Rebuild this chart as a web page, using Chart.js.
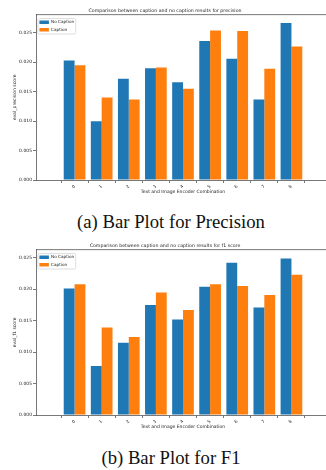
<!DOCTYPE html>
<html>
<head>
<meta charset="utf-8">
<script src="https://cdn.jsdelivr.net/npm/chart.js@4.4.0/dist/chart.umd.min.js"></script>
<style>
  html, body { margin: 0; padding: 0; background: #fff; }
  body { width: 326px; height: 470px; overflow: hidden; position: relative; }
  .plot { position: absolute; left: 0; width: 366px; height: 200px; }
  .caption { position: absolute; left: 0; width: 342px; text-align: center; font-family: "Liberation Serif", serif; font-size: 18.7px; line-height: 22px; color: #111; white-space: nowrap; }
</style>
</head>
<body>
<canvas id="precisionChart" class="plot" width="366" height="200" style="top:0"></canvas>
<div class="caption" style="top:211px">(a) Bar Plot for Precision</div>
<canvas id="f1Chart" class="plot" width="366" height="200" style="top:235px"></canvas>
<div class="caption" style="top:447px">(b) Bar Plot for F1</div>
<script>
const categories = ['0', '1', '2', '3', '4', '5', '6', '7', '8'];
const precisionNoCaption = [0.0203, 0.0100, 0.0172, 0.0190, 0.0166, 0.0236, 0.0206, 0.0137, 0.0267];
const precisionCaption = [0.0195, 0.0140, 0.0137, 0.0191, 0.0155, 0.0254, 0.0253, 0.0189, 0.0227];
const f1NoCaption = [0.0201, 0.0078, 0.0115, 0.0175, 0.0152, 0.0204, 0.0242, 0.0171, 0.0249];
const f1Caption = [0.0208, 0.0139, 0.0124, 0.0195, 0.0167, 0.0208, 0.0205, 0.0191, 0.0223];
const yTicks = [0, 0.005, 0.010, 0.015, 0.020, 0.025];

const BLUE = '#1f77b4';
const ORANGE = '#ff7f0e';
const FONT = "'DejaVu Sans', sans-serif";

// legend 'chartArea' resets top to 0 in vertical mode, put it back inside the plot
// (hitboxes get recomputed by the legend plugin in afterUpdate)
const legendInside = {
    id: 'legendInside',
    afterLayout(chart) {
        const lg = chart.legend;
        if (!lg) return;
        lg.top = chart.chartArea.top + 2;
        lg.bottom = chart.chartArea.bottom;
    }
};

// matplotlib style legend frame, drawn before the legend itself
const legendFrame = {
    id: 'legendFrame',
    beforeDraw(chart) {
        const boxes = chart.legend && chart.legend.legendHitBoxes;
        if (!boxes || !boxes.length) return;
        const x0 = Math.min(...boxes.map(b => b.left)) - 1.5;
        const y0 = Math.min(...boxes.map(b => b.top)) - 1.5;
        const x1 = Math.max(...boxes.map(b => b.left + b.width)) + 1.5;
        const y1 = Math.max(...boxes.map(b => b.top + b.height)) + 2.2;
        const ctx = chart.ctx;
        ctx.save();
        ctx.fillStyle = 'rgba(255,255,255,0.8)';
        ctx.strokeStyle = '#d6d6d6';
        ctx.lineWidth = 0.8;
        ctx.beginPath();
        ctx.roundRect(x0, y0, x1 - x0, y1 - y0, 1.5);
        ctx.fill();
        ctx.stroke();
        ctx.restore();
    }
};

// top and right spines
const spines = {
    id: 'spines',
    afterDatasetsDraw(chart) {
        const { ctx, chartArea: a } = chart;
        ctx.save();
        ctx.strokeStyle = '#555';
        ctx.lineWidth = 0.8;
        ctx.beginPath();
        ctx.moveTo(a.left, a.top);
        ctx.lineTo(a.right, a.top);
        ctx.lineTo(a.right, a.bottom);
        ctx.stroke();
        ctx.restore();
    }
};

function renderBarChart(canvasId, title, yLabel, noCaption, caption, yMax) {
    const ctx = document.getElementById(canvasId).getContext('2d');
    new Chart(ctx, {
        type: 'bar',
        data: {
            datasets: [{
                label: 'No Caption',
                data: noCaption.map((v, i) => ({ x: i, y: v })),
                backgroundColor: BLUE,
                barPercentage: 1,
                categoryPercentage: 0.8
            }, {
                label: 'Caption',
                data: caption.map((v, i) => ({ x: i, y: v })),
                backgroundColor: ORANGE,
                barPercentage: 1,
                categoryPercentage: 0.8
            }]
        },
        options: {
            responsive: false,
            animation: false,
            layout: { padding: { left: 0, right: 36, top: 0, bottom: 0 } },
            plugins: {
                legend: {
                    position: 'chartArea',
                    align: 'start',
                    labels: {
                        boxWidth: 9.5,
                        boxHeight: 3.5,
                        padding: 3.4,
                        color: '#222',
                        font: { family: FONT, size: 4.2 }
                    }
                },
                title: {
                    display: true,
                    text: title,
                    color: '#222',
                    padding: { top: 8, bottom: 1 },
                    font: { family: FONT, size: 4.7, weight: 'normal' }
                },
                tooltip: { enabled: false }
            },
            scales: {
                x: {
                    type: 'linear',
                    min: -0.82,
                    max: 8.82,
                    afterBuildTicks: s => { s.ticks = categories.map((c, i) => ({ value: i })); },
                    afterFit: s => { s.height = 20; },
                    grid: { drawOnChartArea: false, tickLength: 3, color: '#555', tickWidth: 0.8 },
                    border: { color: '#555', width: 0.8 },
                    ticks: {
                        callback: v => categories[v],
                        minRotation: 45,
                        maxRotation: 45,
                        padding: 1,
                        color: '#222',
                        font: { family: FONT, size: 4.3 }
                    },
                    title: {
                        display: true,
                        text: 'Text and Image Encoder Combination',
                        color: '#222',
                        padding: { top: 0, bottom: 5.5 },
                        font: { family: FONT, size: 4.5 }
                    }
                },
                y: {
                    min: 0,
                    max: yMax,
                    afterBuildTicks: s => { s.ticks = yTicks.map(v => ({ value: v })); },
                    afterFit: s => { s.width = 36; },
                    grid: { drawOnChartArea: false, tickLength: 3, color: '#555', tickWidth: 0.8 },
                    border: { color: '#555', width: 0.8 },
                    ticks: {
                        callback: v => v.toFixed(3),
                        padding: 1,
                        color: '#222',
                        font: { family: FONT, size: 4.5 }
                    },
                    title: {
                        display: true,
                        text: yLabel,
                        color: '#222',
                        padding: { top: 12.5, bottom: 0 },
                        font: { family: FONT, size: 4.5 }
                    }
                }
            }
        },
        plugins: [legendInside, legendFrame, spines]
    });
}

document.addEventListener("DOMContentLoaded", () => {
    renderBarChart('precisionChart', 'Comparison between caption and no caption results for precision',
        'eval_precision score', precisionNoCaption, precisionCaption, 0.0281);
    renderBarChart('f1Chart', 'Comparison between caption and no caption results for f1 score',
        'eval_f1 score', f1NoCaption, f1Caption, 0.0263);
});
</script>
</body>
</html>
